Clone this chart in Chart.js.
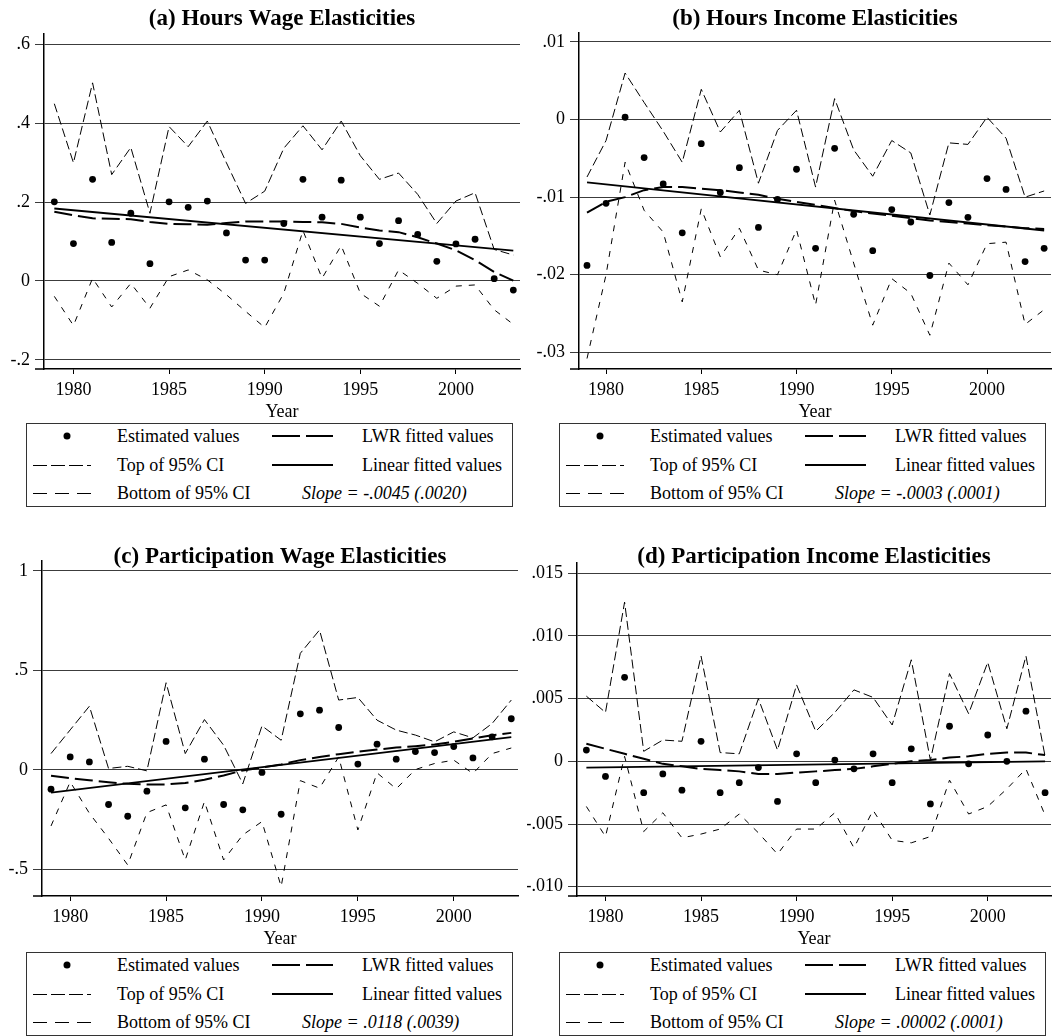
<!DOCTYPE html>
<html>
<head>
<meta charset="utf-8">
<script src="https://cdn.jsdelivr.net/npm/chart.js@4.4.0/dist/chart.umd.min.js"></script>
<style>
  body { margin: 0; background: #fff; }
  #page { position: relative; width: 1055px; height: 1036px; overflow: hidden;
          font-family: 'Liberation Serif', 'Times New Roman', serif; color: #000; }
  canvas { position: absolute; }
  .legend { position: absolute; width: 487px; height: 84px; border: 1px solid #333;
            box-sizing: border-box; font-size: 18px; }
  .legend .it { position: absolute; height: 22px; line-height: 22px; white-space: nowrap; }
  .legend svg { position: absolute; }
</style>
</head>
<body>
<div id="page">
  <canvas id="panelA" width="527" height="423" style="left:0;top:0"></canvas>
  <canvas id="panelB" width="528" height="423" style="left:527px;top:0"></canvas>
  <canvas id="panelC" width="527" height="423" style="left:0;top:527px"></canvas>
  <canvas id="panelD" width="528" height="423" style="left:527px;top:527px"></canvas>
</div>
<script>
// years of the survey
const years = [1979, 1980, 1981, 1982, 1983, 1984, 1985, 1986, 1987, 1988, 1989, 1990,
  1991, 1992, 1993, 1994, 1995, 1996, 1997, 1998, 1999, 2000, 2001, 2002, 2003];
const xTicks = [1980, 1985, 1990, 1995, 2000];
const linYears = [1979, 2003];

// (a) Hours wage elasticities
const estA = [0.201, 0.095, 0.258, 0.098, 0.172, 0.044, 0.201, 0.187, 0.203, 0.122, 0.053, 0.053,
  0.146, 0.258, 0.162, 0.256, 0.162, 0.095, 0.153, 0.118, 0.050, 0.094, 0.106, 0.006, -0.023];
const topA = [0.450, 0.300, 0.503, 0.270, 0.339, 0.172, 0.392, 0.341, 0.406, 0.300, 0.197, 0.228,
  0.337, 0.394, 0.333, 0.406, 0.318, 0.258, 0.274, 0.220, 0.146, 0.203, 0.224, 0.080, 0.066];
const bottomA = [-0.039, -0.113, 0.007, -0.066, -0.006, -0.069, 0.011, 0.028, 0.003, -0.035, -0.077, -0.118,
  -0.031, 0.128, 0.007, 0.090, -0.031, -0.064, 0.028, -0.006, -0.044, -0.013, -0.010, -0.073, -0.110];
const lwrA = [0.176, 0.167, 0.159, 0.158, 0.157, 0.150, 0.145, 0.144, 0.143, 0.147, 0.151, 0.151,
  0.151, 0.150, 0.149, 0.145, 0.136, 0.128, 0.124, 0.111, 0.095, 0.078, 0.053, 0.023, 0.001];
const linA = [0.184, 0.077];
const yTicksA = [-0.2, 0, 0.2, 0.4, 0.6];
const yLabelsA = ['-.2', '0', '.2', '.4', '.6'];

// (b) Hours income elasticities
const estB = [-0.0188, -0.0108, 0.0003, -0.0049, -0.0083, -0.0146, -0.0031, -0.0094, -0.0062, -0.0139, -0.0103, -0.0064,
  -0.0166, -0.0037, -0.0122, -0.0169, -0.0116, -0.0132, -0.0201, -0.0107, -0.0126, -0.0076, -0.0090, -0.0183, -0.0166];
const topB = [-0.0074, -0.0027, 0.0060, 0.0022, -0.0015, -0.0055, 0.0039, -0.0016, 0.0012, -0.0082, -0.0014, 0.0012,
  -0.0087, 0.0027, -0.0039, -0.0073, -0.0027, -0.0043, -0.0123, -0.0030, -0.0032, 0.0003, -0.0024, -0.0100, -0.0092];
const bottomB = [-0.0308, -0.0200, -0.0055, -0.0117, -0.0145, -0.0235, -0.0115, -0.0177, -0.0140, -0.0194, -0.0200, -0.0142,
  -0.0239, -0.0104, -0.0185, -0.0265, -0.0205, -0.0224, -0.0278, -0.0185, -0.0213, -0.0160, -0.0158, -0.0264, -0.0245];
const lwrB = [-0.0120, -0.0106, -0.0100, -0.0091, -0.0087, -0.0087, -0.0089, -0.0091, -0.0094, -0.0097, -0.0102, -0.0106,
  -0.0110, -0.0114, -0.0118, -0.0121, -0.0124, -0.0127, -0.0130, -0.0132, -0.0134, -0.0136, -0.0138, -0.0140, -0.0141];
const linB = [-0.0081, -0.0143];
const yTicksB = [-0.03, -0.02, -0.01, 0, 0.01];
const yLabelsB = ['-.03', '-.02', '-.01', '0', '.01'];

// (c) Participation wage elasticities
const estC = [-0.097, 0.065, 0.040, -0.174, -0.233, -0.107, 0.143, -0.191, 0.054, -0.174, -0.201, -0.013,
  -0.223, 0.282, 0.300, 0.213, 0.029, 0.129, 0.054, 0.092, 0.087, 0.117, 0.060, 0.166, 0.257];
const topC = [0.082, 0.201, 0.320, 0.007, 0.018, -0.005, 0.438, 0.082, 0.253, 0.124, -0.070, 0.221,
  0.149, 0.586, 0.703, 0.351, 0.364, 0.250, 0.200, 0.175, 0.141, 0.191, 0.161, 0.233, 0.351];
const bottomC = [-0.282, -0.060, -0.218, -0.344, -0.478, -0.215, -0.176, -0.453, -0.159, -0.453, -0.327, -0.260,
  -0.587, -0.054, -0.092, 0.065, -0.302, -0.015, -0.095, 0.002, 0.032, 0.049, -0.018, 0.082, 0.110];
const lwrC = [-0.030, -0.042, -0.052, -0.062, -0.070, -0.073, -0.073, -0.066, -0.050, -0.028, -0.003, 0.012,
  0.027, 0.049, 0.065, 0.079, 0.091, 0.102, 0.112, 0.119, 0.128, 0.141, 0.158, 0.174, 0.186];
const linC = [-0.114, 0.165];
const yTicksC = [-0.5, 0, 0.5, 1];
const yLabelsC = ['-.5', '0', '.5', '1'];

// (d) Participation income elasticities
const estD = [0.0009, -0.0012, 0.0067, -0.0025, -0.0010, -0.0023, 0.0016, -0.0025, -0.0017, -0.0005, -0.0032, 0.0006,
  -0.0017, 0.0001, -0.0006, 0.0006, -0.0017, 0.0010, -0.0034, 0.0028, -0.0002, 0.0021, 0.0000, 0.0040, -0.0025];
const topD = [0.0052, 0.0039, 0.0127, 0.0008, 0.0017, 0.0016, 0.0084, 0.0007, 0.0006, 0.0050, 0.0009, 0.0061,
  0.0024, 0.0039, 0.0057, 0.0051, 0.0029, 0.0081, 0.0001, 0.0070, 0.0038, 0.0079, 0.0026, 0.0084, 0.0004];
const bottomD = [-0.0036, -0.0060, 0.0004, -0.0056, -0.0041, -0.0061, -0.0058, -0.0054, -0.0042, -0.0057, -0.0074, -0.0054,
  -0.0054, -0.0041, -0.0069, -0.0039, -0.0063, -0.0065, -0.0060, -0.0015, -0.0042, -0.0036, -0.0022, -0.0006, -0.0043];
const lwrD = [0.0014, 0.0010, 0.0006, 0.0002, -0.0002, -0.0004, -0.0006, -0.0007, -0.0008, -0.0010, -0.0010, -0.0009,
  -0.0008, -0.0007, -0.0006, -0.0004, -0.0002, 0.0000, 0.0001, 0.0003, 0.0004, 0.0006, 0.0007, 0.0007, 0.0005];
const linD = [-0.0005, 0.0000];
const yTicksD = [-0.010, -0.005, 0, 0.005, 0.010, 0.015];
const yLabelsD = ['-.010', '-.005', '0', '.005', '.010', '.015'];

Chart.defaults.font.family = "'Liberation Serif', 'Times New Roman', serif";
Chart.defaults.color = '#000';

// bold title centred over the plot region, plus the short x-axis stub left of the y axis
const titlePlugin = {
  id: 'panelTitle',
  afterDraw(chart, args, opts) {
    const ctx = chart.ctx;
    const area = chart.chartArea;
    ctx.save();
    ctx.strokeStyle = '#000';
    ctx.lineWidth = 1.5;
    ctx.beginPath();
    ctx.moveTo(area.left - 9, area.bottom);
    ctx.lineTo(area.left, area.bottom);
    ctx.stroke();
    ctx.font = "bold 23px 'Liberation Serif', 'Times New Roman', serif";
    ctx.fillStyle = '#000';
    ctx.textAlign = 'center';
    ctx.textBaseline = 'alphabetic';
    ctx.fillText(opts.text, (area.left + area.right) / 2, opts.y);
    ctx.restore();
  }
};

function makePanel(id, p) {
  const pts = arr => years.map((x, i) => ({ x: x, y: arr[i] }));
  new Chart(document.getElementById(id), {
    type: 'line',
    data: {
      datasets: [
        { data: pts(p.top), borderColor: '#000', borderWidth: 1, borderDash: [9, 4], pointRadius: 0, tension: 0 },
        { data: pts(p.bottom), borderColor: '#000', borderWidth: 1, borderDash: [6, 7], pointRadius: 0, tension: 0 },
        { data: pts(p.lwr), borderColor: '#000', borderWidth: 2, borderDash: [18, 6], pointRadius: 0, tension: 0 },
        { data: linYears.map((x, i) => ({ x: x, y: p.lin[i] })), borderColor: '#000', borderWidth: 1.8, pointRadius: 0 },
        { data: pts(p.est), showLine: false, pointRadius: 3.4, pointBorderWidth: 0,
          pointBackgroundColor: '#000', borderColor: '#000' }
      ]
    },
    options: {
      responsive: false,
      animation: false,
      events: [],
      layout: { padding: { top: p.padTop, right: p.padRight, left: 0, bottom: 0 } },
      plugins: {
        legend: { display: false },
        tooltip: { enabled: false },
        panelTitle: { text: p.title, y: p.titleY }
      },
      scales: {
        x: {
          type: 'linear',
          min: p.xMin,
          max: p.xMax,
          afterBuildTicks: s => { s.ticks = xTicks.map(v => ({ value: v })); },
          afterFit: s => { s.height = 54; },
          grid: { drawOnChartArea: false, drawTicks: true, tickLength: 5, color: '#000', lineWidth: 1 },
          border: { display: true, color: '#000', width: 1.5 },
          ticks: { font: { size: 18 }, padding: 5, maxRotation: 0, callback: v => String(v) },
          title: { display: true, text: 'Year', font: { size: 18 }, padding: 0 }
        },
        y: {
          min: p.yMin,
          max: p.yMax,
          afterBuildTicks: s => { s.ticks = p.yTicks.map(v => ({ value: v })); },
          afterFit: s => { s.width = p.yWidth; },
          grid: { color: '#3c3c3c', lineWidth: 1, drawTicks: true, tickLength: 9 },
          border: { display: true, color: '#000', width: 1.5 },
          ticks: { font: { size: 18 }, padding: 5, callback: (v, i) => p.yLabels[i] }
        }
      }
    },
    plugins: [titlePlugin]
  });
}

makePanel('panelA', { title: '(a) Hours Wage Elasticities', titleY: 25,
  est: estA, top: topA, bottom: bottomA, lwr: lwrA, lin: linA,
  yTicks: yTicksA, yLabels: yLabelsA, yMin: -0.2234, yMax: 0.627,
  xMin: 1978.46, xMax: 2003.35, padTop: 34, padRight: 7, yWidth: 44 });
makePanel('panelB', { title: '(b) Hours Income Elasticities', titleY: 25,
  est: estB, top: topB, bottom: bottomB, lwr: lwrB, lin: linB,
  yTicks: yTicksB, yLabels: yLabelsB, yMin: -0.03215, yMax: 0.01116,
  xMin: 1978.58, xMax: 2003.36, padTop: 33, padRight: 0, yWidth: 52 });
makePanel('panelC', { title: '(c) Participation Wage Elasticities', titleY: 36,
  est: estC, top: topC, bottom: bottomC, lwr: lwrC, lin: linC,
  yTicks: yTicksC, yLabels: yLabelsC, yMin: -0.634, yMax: 1.05,
  xMin: 1978.53, xMax: 2003.35, padTop: 34, padRight: 9, yWidth: 42 });
makePanel('panelD', { title: '(d) Participation Income Elasticities', titleY: 36,
  est: estD, top: topD, bottom: bottomD, lwr: lwrD, lin: linD,
  yTicks: yTicksD, yLabels: yLabelsD, yMin: -0.01074, yMax: 0.01582,
  xMin: 1978.51, xMax: 2003.31, padTop: 36, padRight: 3, yWidth: 50 });

// legend boxes under each panel
function lineSample(x, rowY, w, dash, width) {
  const ly = width === 1 ? 11.5 : 11;
  return '<svg style="left:' + x + 'px;top:' + (rowY - 11) + 'px" width="' + w + '" height="22">' +
    '<line x1="0" y1="' + ly + '" x2="' + w + '" y2="' + ly + '" stroke="#000" stroke-width="' + width + '"' +
    (dash ? ' stroke-dasharray="' + dash + '"' : '') + '/></svg>';
}
function textItem(x, rowY, text, italic) {
  return '<div class="it" style="left:' + x + 'px;top:' + (rowY - 11) + 'px' +
    (italic ? ';font-style:italic' : '') + '">' + text + '</div>';
}
function addLegend(left, top, slope) {
  const rows = [12, 41, 69];
  const box = document.createElement('div');
  box.className = 'legend';
  box.style.left = left + 'px';
  box.style.top = top + 'px';
  box.innerHTML =
    '<svg style="left:34px;top:' + (rows[0] - 11) + 'px" width="12" height="22"><circle cx="6" cy="11" r="3.5" fill="#000"/></svg>' +
    textItem(90, rows[0], 'Estimated values') +
    lineSample(6, rows[1], 58, '14 4', 1) +
    textItem(90, rows[1], 'Top of 95% CI') +
    lineSample(6, rows[2], 58, '14 8', 1) +
    textItem(90, rows[2], 'Bottom of 95% CI') +
    lineSample(245, rows[0], 61, '28 6', 2) +
    textItem(335, rows[0], 'LWR fitted values') +
    lineSample(245, rows[1], 61, null, 2) +
    textItem(335, rows[1], 'Linear fitted values') +
    textItem(275, rows[2], slope, true);
  document.getElementById('page').appendChild(box);
}
addLegend(26, 423, 'Slope = -.0045 (.0020)');
addLegend(559, 423, 'Slope = -.0003 (.0001)');
addLegend(26, 952, 'Slope = .0118 (.0039)');
addLegend(559, 952, 'Slope = .00002 (.0001)');
</script>
</body>
</html>
